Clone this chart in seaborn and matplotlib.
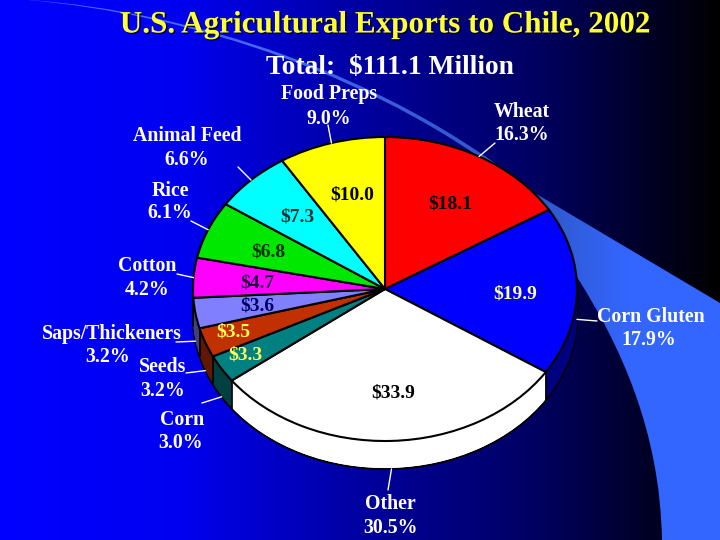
"""
Pie chart of U.S. agricultural exports to Chile in 2002, drawn as a slide
with a blue gradient background and a fake 3D pie.
"""
import numpy as np
import matplotlib
matplotlib.use("Agg")
import matplotlib.pyplot as plt
import matplotlib.patheffects as pe
from matplotlib.patches import PathPatch
from matplotlib.path import Path
import seaborn as sns

# chart data, clockwise from the top
categories = ["Wheat", "Corn Gluten", "Other", "Corn", "Seeds", "Saps/Thickeners",
              "Cotton", "Rice", "Animal Feed", "Food Preps"]
dollars = [18.1, 19.9, 33.9, 3.3, 3.5, 3.6, 4.7, 6.8, 7.3, 10.0]
percents = [16.3, 17.9, 30.5, 3.0, 3.2, 3.2, 4.2, 6.1, 6.6, 9.0]

title = "U.S. Agricultural Exports to Chile, 2002"
subtitle = "Total:  $111.1 Million"

top_colors = ["#ff0000", "#0000ff", "#ffffff", "#008080", "#c03000", "#8080ff",
              "#ff00ff", "#00e800", "#00ffff", "#ffff00"]
wall_colors = ["#800000", "#000080", "#ffffff", "#004040", "#601800", "#404080",
               "#800080", "#007400", "#008080", "#808000"]
value_colors = ["black", "#ffff99", "black", "#ffff55", "#ffff55", "#000060",
                "#200040", "#003000", "#003030", "black"]

# label placement in pixels of the 720x540 slide
value_xy = [(450, 204), (515, 294), (393, 393), (245, 355), (233, 332), (257, 306),
            (257, 283), (268, 252), (297, 217), (352, 195)]
name_xy = [(522, 112), (651, 317), (390, 504), (182, 420), (163, 367), (112, 334),
           (147, 266), (170, 191), (187, 136), (329, 94)]
pct_xy = [(522, 135), (649, 340), (390, 528), (181, 443), (163, 391), (108, 357),
          (147, 290), (170, 213), (187, 160), (329, 119)]
leader_end = [(495, 143), (597, 321), (388, 490), (202, 403), (186, 373), (176, 342),
              (177, 274), (191, 221), (238, 167), (328, 125)]

# pie ellipse in pixels
CX, CY, RX, RY, DEPTH = 385, 289, 192, 152, 28
W, H = 720, 540

# outline of the light swoosh behind the pie, as bezier segments
swoosh_path = Path(
    [(30, 0), (190, 12), (385, 72), (533, 192),
     (720, 303), (720, 540), (662, 540),
     (660, 430), (620, 345), (577, 277),
     (533, 197),
     (384, 75), (188, 14), (28, 0),
     (30, 0)],
    [Path.MOVETO, Path.CURVE4, Path.CURVE4, Path.CURVE4,
     Path.LINETO, Path.LINETO, Path.LINETO,
     Path.CURVE4, Path.CURVE4, Path.CURVE4,
     Path.LINETO,
     Path.CURVE4, Path.CURVE4, Path.CURVE4,
     Path.CLOSEPOLY])


def px_axes(fig, zorder):
    ax = fig.add_axes([0, 0, 1, 1], zorder=zorder)
    ax.set_xlim(0, W)
    ax.set_ylim(H, 0)
    ax.axis("off")
    ax.patch.set_alpha(0)
    return ax


sns.set_theme(style="white")
plt.rcParams["font.family"] = ["Liberation Serif", "DejaVu Serif"]

fig = plt.figure(figsize=(7.2, 5.4), dpi=100)

# background gradient
bg_ax = fig.add_axes([0, 0, 1, 1], zorder=0)
bg_cmap = sns.blend_palette(["#0000ff", "#0000f0", "#0000a0", "#000060", "#000000"], as_cmap=True)
sns.heatmap(np.linspace(0, 1, 360).reshape(1, -1), cmap=bg_cmap, cbar=False, ax=bg_ax,
            xticklabels=False, yticklabels=False)

# swoosh, brighter to the right
swoosh_ax = px_axes(fig, 1)
swoosh_cmap = sns.blend_palette(["#4a6cff", "#4a6cff", "#466af8", "#4468f0", "#3c60e0",
                                 "#3559d0", "#3058c8", "#3366ff", "#3366ff"], as_cmap=True)
patch = PathPatch(swoosh_path, facecolor="none", edgecolor="none")
swoosh_ax.add_patch(patch)
im = swoosh_ax.imshow(np.linspace(0, 1, 360).reshape(1, -1), cmap=swoosh_cmap,
                      extent=(0, W, H, 0), aspect="auto")
im.set_clip_path(patch)
swoosh_ax.set_xlim(0, W)
swoosh_ax.set_ylim(H, 0)

# pie axes: -1..1 covers the ellipse
ax_w, ax_h = RX * 1.5, RY * 1.5
pie_ax = fig.add_axes([(CX - ax_w) / W, 1 - (CY + ax_h) / H, 2 * ax_w / W, 2 * ax_h / H], zorder=2)
dy = DEPTH / RY

# stack of darker layers makes the wall, then the top face
for i, d in enumerate(np.linspace(dy, 0.01, DEPTH)):
    pie_ax.pie(dollars, colors=wall_colors, startangle=90, counterclock=False, center=(0, -d),
               wedgeprops={"edgecolor": "black" if i == 0 else "none", "linewidth": 1.5 if i == 0 else 0})
wedges, _ = pie_ax.pie(dollars, colors=top_colors, startangle=90, counterclock=False,
                       wedgeprops={"edgecolor": "black", "linewidth": 1.5})

# black lines down the wall
fracs = np.cumsum(dollars) / np.sum(dollars)
for ang in np.append(fracs * 360, [90, 270]):
    x, y = np.sin(np.radians(ang)), np.cos(np.radians(ang))
    if y <= 0:
        pie_ax.plot([x, x], [y, y - dy], color="black", lw=1.2)

pie_ax.set_aspect("auto")
pie_ax.set_xlim(-1.5, 1.5)
pie_ax.set_ylim(-1.5, 1.5)
pie_ax.axis("off")

# text layer
text_ax = px_axes(fig, 3)
text_ax.text(385, 25, title, fontsize=22.4, color="#ffff33", ha="center", va="center", fontweight="bold",
             path_effects=[pe.withSimplePatchShadow(offset=(1, -1), shadow_rgbFace="black", alpha=0.7)])
text_ax.text(390, 67, subtitle, fontsize=19.8, color="white", ha="center", va="center", fontweight="bold")

mids = (np.append(0, fracs[:-1]) + fracs) / 2 * 360
for i, cat in enumerate(categories):
    text_ax.text(*value_xy[i], f"${dollars[i]:.1f}", fontsize=14, color=value_colors[i],
                 ha="center", va="center", fontweight="bold")
    text_ax.text(*name_xy[i], cat, fontsize=14.3, color="white", ha="center", va="center", fontweight="bold")
    text_ax.text(*pct_xy[i], f"{percents[i]:.1f}%", fontsize=14.3, color="white", ha="center", va="center",
                 fontweight="bold")

    # leader from the pie rim (or the wall bottom on the front half) to the label
    sx = CX + RX * np.sin(np.radians(mids[i]))
    sy = CY - RY * np.cos(np.radians(mids[i]))
    if 88 < mids[i] < 265:
        sy += DEPTH
    text_ax.plot([sx, leader_end[i][0]], [sy, leader_end[i][1]], color="white", lw=1)

fig.savefig("out.png", dpi=100)
plt.close(fig)
